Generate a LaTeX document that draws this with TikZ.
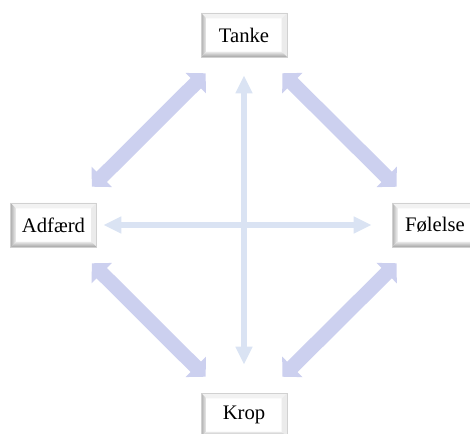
\documentclass[tikz,border=0pt]{standalone}
\usepackage{fontspec}
\setmainfont{Liberation Serif}
\usetikzlibrary{arrows.meta}

\definecolor{linkfill}{RGB}{204,208,239}
\definecolor{crossfill}{RGB}{218,227,243}

\tikzset{
    % Bevelled label box
    bevelbox/.style={
        draw=black!18, fill=white, inner sep=0pt,
        minimum width=64.5pt, minimum height=33pt,
        font=\fontsize{15.5}{18}\selectfont,
        path picture={
            \coordinate (sw) at (path picture bounding box.south west);
            \coordinate (nw) at (path picture bounding box.north west);
            \coordinate (se) at (path picture bounding box.south east);
            \coordinate (ne) at (path picture bounding box.north east);
            \fill[black!5] (nw) -- (ne) -- ([shift={(-4pt,-4pt)}]ne) -- ([shift={(4pt,-4pt)}]nw) -- cycle;
            \fill[black!8] (ne) -- (se) -- ([shift={(-4pt,4pt)}]se) -- ([shift={(-4pt,-4pt)}]ne) -- cycle;
            \shade[left color=black!32, right color=black!6] (sw) -- (nw) -- ([shift={(4pt,-4pt)}]nw) -- ([shift={(4pt,4pt)}]sw) -- cycle;
            \shade[bottom color=black!36, top color=black!8] (sw) -- ([shift={(4pt,4pt)}]sw) -- ([shift={(-4pt,4pt)}]se) -- (se) -- cycle;
        }
    },
    % Broad arrows between neighbouring boxes
    linkarrow/.style={
        draw=linkfill, line width=11pt,
        {Triangle[width=21pt,length=10.5pt]}-{Triangle[width=21pt,length=10.5pt]},
        shorten <=17pt, shorten >=17pt
    },
    % Thin arrows across the middle
    crossarrow/.style={
        draw=crossfill, line width=4.5pt,
        {Triangle[width=12pt,length=13.5pt]}-{Triangle[width=12pt,length=13.5pt]}
    }
}

\begin{document}
\begin{tikzpicture}[x=0.75pt, y=-0.75pt]
    \clip (0,0) rectangle (470,434);
    \useasboundingbox (0,0) rectangle (470,434);

    % Boxes
    \node[bevelbox] (tanke) at (244,35) {Tanke};
    \node[bevelbox] (adfaerd) at (53.5,225) {Adfærd};
    \node[bevelbox] (folelse) at (435,225) {Følelse};
    \node[bevelbox] (krop) at (244,415) {Krop};

    % Cross in the middle
    \draw[crossarrow, shorten <=13.5pt, shorten >=21pt] (tanke) -- (krop);
    \draw[crossarrow, shorten <=5pt, shorten >=15pt] (adfaerd) -- (folelse);

    % Arrows round the square
    \draw[linkarrow] (tanke) -- (adfaerd);
    \draw[linkarrow] (tanke) -- (folelse);
    \draw[linkarrow] (adfaerd) -- (krop);
    \draw[linkarrow] (folelse) -- (krop);
\end{tikzpicture}
\end{document}
